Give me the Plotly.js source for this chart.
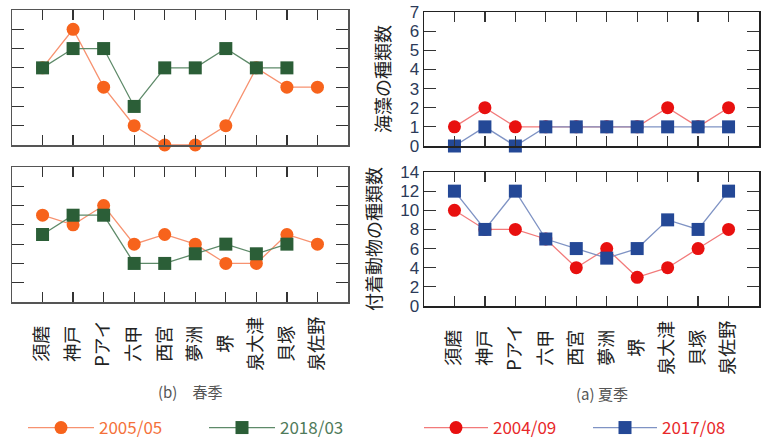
<!DOCTYPE html>
<html>
<head>
<meta charset="utf-8">
<script src="https://cdn.plot.ly/plotly-3.0.1.min.js"></script>
<style>html,body{margin:0;padding:0;background:#fff;}#chart{width:768px;height:445px;}</style>
</head>
<body>
<div id="chart"></div>
<script>
const stations = ["須磨","神戸","Pアイ","六甲","西宮","夢洲","堺","泉大津","貝塚","泉佐野"];
// (b) spring
const springSeaweed2005 = [4,6,3,1,0,0,1,4,3,3];
const springSeaweed2018 = [4,5,5,2,4,4,5,4,4,null];
const springAnimal2005 = [9,8,10,6,7,6,4,4,7,6];
const springAnimal2018 = [7,9,9,4,4,5,6,5,6,null];
// (a) summer
const summerSeaweed2004 = [1,2,1,1,1,1,1,2,1,2];
const summerSeaweed2017 = [0,1,0,1,1,1,1,1,1,1];
const summerAnimal2004 = [10,8,8,7,4,6,3,4,6,8];
const summerAnimal2017 = [12,8,12,7,6,5,6,9,8,12];
const seaweedTicks = [0,1,2,3,4,5,6,7];
const animalTicks = [0,2,4,6,8,10,12,14];

const xIdx = stations.map((_, i) => i);
// pad labels so rotated labels are centred like the reference
function padLabel(s) {
  let w = 0;
  for (const ch of s) w += (ch.charCodeAt(0) < 256) ? 0.6 : 1;
  const extra = (3 - w) / 2;
  if (extra >= 0.9) return s + "\u3000";
  if (extra >= 0.4) return s + "\u2002";
  if (extra >= 0.15) return s + "\u2009";
  return s;
}
const tickText = stations.map(padLabel);

const C = {
  o: "#f7631c", oLine: "#f79270",
  g: "#2b5e37", gLine: "#5e8a69",
  r: "#e8100f", rLine: "#f27a7a",
  b: "#244896", bLine: "#7f93c4"
};

function tr(y, xa, ya, color, lineColor, symbol, name, legend, show) {
  return {
    x: xIdx, y: y, xaxis: xa, yaxis: ya, type: "scatter", mode: "lines+markers",
    name: name, legend: legend, showlegend: show, cliponaxis: false,
    line: {color: lineColor, width: 1.3},
    marker: {color: color, symbol: symbol, size: 13, line: {width: 0}}
  };
}

const data = [
  tr(springSeaweed2005, "x", "y", C.o, C.oLine, "circle", "2005/05", "legend", true),
  tr(springSeaweed2018, "x", "y", C.g, C.gLine, "square", "2018/03", "legend", true),
  tr(springAnimal2005, "x2", "y2", C.o, C.oLine, "circle", "2005/05", "legend", false),
  tr(springAnimal2018, "x2", "y2", C.g, C.gLine, "square", "2018/03", "legend", false),
  tr(summerSeaweed2004, "x3", "y3", C.r, C.rLine, "circle", "2004/09", "legend2", true),
  tr(summerSeaweed2017, "x3", "y3", C.b, C.bLine, "square", "2017/08", "legend2", true),
  tr(summerAnimal2004, "x4", "y4", C.r, C.rLine, "circle", "2004/09", "legend2", false),
  tr(summerAnimal2017, "x4", "y4", C.b, C.bLine, "square", "2017/08", "legend2", false)
];

const H = 445, W = 768;
const dx = (a, b) => [a / W, b / W];
const dy = (top, bot) => [1 - bot / H, 1 - top / H];

const tickFont = {family: "Liberation Sans, Arial, sans-serif", size: 17, color: "#2c3a58"};
const jpFont = {family: "Noto Sans CJK JP, sans-serif", size: 18, color: "#222"};

function xAxis(domain, anchor, showLabels, frameColor) {
  return {
    domain: domain, anchor: anchor, range: [-1, 10], automargin: false,
    tickmode: "array", tickvals: xIdx, ticktext: tickText,
    showticklabels: showLabels, tickangle: -90, tickfont: jpFont,
    ticks: "inside", ticklen: 10, tickwidth: 1.2, tickcolor: "#333",
    showline: true, linecolor: frameColor, linewidth: 1.5, mirror: "ticks",
    showgrid: false, zeroline: false, fixedrange: true,
    ticklabelstandoff: 6
  };
}
function yAxis(domain, anchor, range, vals, showLabels, title, frameColor) {
  return {
    domain: domain, anchor: anchor, range: range, automargin: false,
    tickmode: "array", tickvals: vals, ticktext: vals.map(String),
    showticklabels: showLabels, tickfont: tickFont,
    ticks: "inside", ticklen: 12, tickwidth: 1.2, tickcolor: "#333",
    showline: true, linecolor: frameColor, linewidth: 1.5, mirror: "ticks",
    showgrid: false, zeroline: false, fixedrange: true,
    title: title ? {text: title, font: {family: "Noto Sans CJK JP, sans-serif", size: 18, color: "#222"}, standoff: 14} : undefined
  };
}

const legFont = {family: "Noto Sans CJK JP, sans-serif", size: 17, color: "#f4713a"};
const layout = {
  width: W, height: H, margin: {l: 0, r: 0, t: 0, b: 0, autoexpand: false},
  paper_bgcolor: "#fff", plot_bgcolor: "#fff", showlegend: true,
  xaxis: xAxis(dx(12, 348), "y", false, "#555"),
  yaxis: yAxis(dy(10, 145), "x", [0, 7], seaweedTicks, false, null, "#555"),
  xaxis2: xAxis(dx(12, 348), "y2", true, "#555"),
  yaxis2: yAxis(dy(167, 302), "x2", [0, 14], animalTicks, false, null, "#555"),
  xaxis3: xAxis(dx(424, 759), "y3", false, "#222"),
  yaxis3: yAxis(dy(12, 146), "x3", [0, 7], seaweedTicks, true, "海藻の種類数", "#222"),
  xaxis4: xAxis(dx(424, 759), "y4", true, "#222"),
  yaxis4: yAxis(dy(172, 306), "x4", [0, 14], animalTicks, true, "付着動物の種類数", "#222"),
  legend: {
    orientation: "h", x: 23 / W, y: 1 - 428 / H, xanchor: "left", yanchor: "middle",
    font: legFont, itemwidth: 66, entrywidth: 100, entrywidthmode: "pixels",
    bgcolor: "rgba(0,0,0,0)"
  },
  legend2: {
    orientation: "h", x: 419 / W, y: 1 - 428 / H, xanchor: "left", yanchor: "middle",
    font: Object.assign({}, legFont, {color: "#e8282a"}), itemwidth: 64, entrywidth: 90,
    entrywidthmode: "pixels", bgcolor: "rgba(0,0,0,0)"
  },
  annotations: [
    {text: "(b)　春季", x: 190 / W, y: 1 - 391 / H, xref: "paper", yref: "paper", showarrow: false,
     xanchor: "center", yanchor: "middle",
     font: {family: "Noto Sans CJK JP, sans-serif", size: 15, color: "#555"}},
    {text: "(a) 夏季", x: 602 / W, y: 1 - 393 / H, xref: "paper", yref: "paper", showarrow: false,
     xanchor: "center", yanchor: "middle",
     font: {family: "Noto Sans CJK JP, sans-serif", size: 15, color: "#555"}}
  ]
};

Plotly.newPlot("chart", data, layout, {displayModeBar: false, staticPlot: true}).then(function () {
  const colors = {"2005/05": "#f4713a", "2018/03": "#4f7a5a", "2004/09": "#e8282a", "2017/08": "#3f5aa0"};
  document.querySelectorAll(".legendtext").forEach(function (t) {
    const c = colors[t.textContent];
    if (c) t.style.fill = c;
  });
});
</script>
</body>
</html>
